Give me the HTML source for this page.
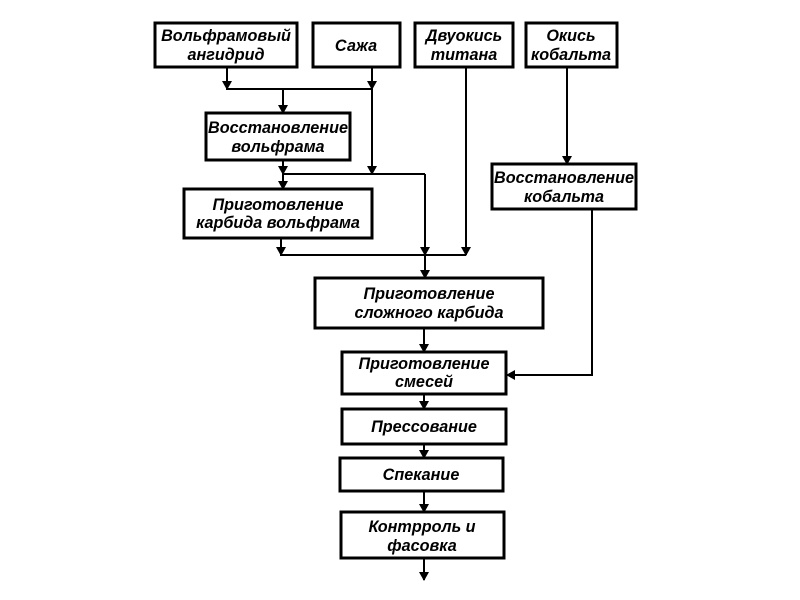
<!DOCTYPE html>
<html><head><meta charset="utf-8"><style>
html,body{margin:0;padding:0;background:#fff;}
svg{display:block;}
text{font-family:"Liberation Sans","DejaVu Sans",sans-serif;font-weight:bold;font-style:italic;font-size:16.2px;fill:#000;text-anchor:middle;}
</style></head><body>
<svg width="800" height="600" viewBox="0 0 800 600" xmlns="http://www.w3.org/2000/svg">
<g fill="#fff" stroke="#000" stroke-width="3">
<rect x="155" y="23" width="142" height="44"/>
<rect x="313" y="23" width="87" height="44"/>
<rect x="415" y="23" width="98" height="44"/>
<rect x="526" y="23" width="91" height="44"/>
<rect x="206" y="113" width="144" height="47"/>
<rect x="184" y="189" width="188" height="49"/>
<rect x="492" y="164" width="144" height="45"/>
<rect x="315" y="278" width="228" height="50"/>
<rect x="342" y="352" width="164" height="42"/>
<rect x="342" y="409" width="164" height="35"/>
<rect x="340" y="458" width="163" height="33"/>
<rect x="341" y="512" width="163" height="46"/>
</g>
<g fill="none" stroke="#000" stroke-width="2">
<path d="M227 67V89H372M372 67V174M283 89V113M283 160V189M283 174H425M281 238V255H466M425 174V278M466 67V255M567 67V164M592 209V375H506M424 328V352M424 394V409M424 444V458M424 491V512M424 558V580"/>
</g>
<g fill="#000">
<polygon points="222,81 232,81 227,90"/>
<polygon points="367,81 377,81 372,90"/>
<polygon points="278,105 288,105 283,114"/>
<polygon points="278,166 288,166 283,175"/>
<polygon points="367,166 377,166 372,175"/>
<polygon points="278,181 288,181 283,190"/>
<polygon points="276,247 286,247 281,256"/>
<polygon points="420,247 430,247 425,256"/>
<polygon points="461,247 471,247 466,256"/>
<polygon points="420,270 430,270 425,279"/>
<polygon points="562,156 572,156 567,165"/>
<polygon points="515,370 515,380 506,375"/>
<polygon points="419,344 429,344 424,353"/>
<polygon points="419,401 429,401 424,410"/>
<polygon points="419,450 429,450 424,459"/>
<polygon points="419,504 429,504 424,513"/>
<polygon points="419,572 429,572 424,581"/>
</g>
<text x="226" y="41">Вольфрамовый</text>
<text x="226" y="60">ангидрид</text>
<text x="356" y="51">Сажа</text>
<text x="464" y="41">Двуокись</text>
<text x="464" y="60">титана</text>
<text x="571" y="41">Окись</text>
<text x="571" y="60">кобальта</text>
<text x="278" y="133">Восстановление</text>
<text x="278" y="152">вольфрама</text>
<text x="278" y="210">Приготовление</text>
<text x="278" y="228">карбида вольфрама</text>
<text x="564" y="183">Восстановление</text>
<text x="564" y="202">кобальта</text>
<text x="429" y="299">Приготовление</text>
<text x="429" y="318">сложного карбида</text>
<text x="424" y="369">Приготовление</text>
<text x="424" y="387">смесей</text>
<text x="424" y="432">Прессование</text>
<text x="421" y="480">Спекание</text>
<text x="422" y="532">Контрроль и</text>
<text x="422" y="551">фасовка</text>
</svg>
</body></html>
